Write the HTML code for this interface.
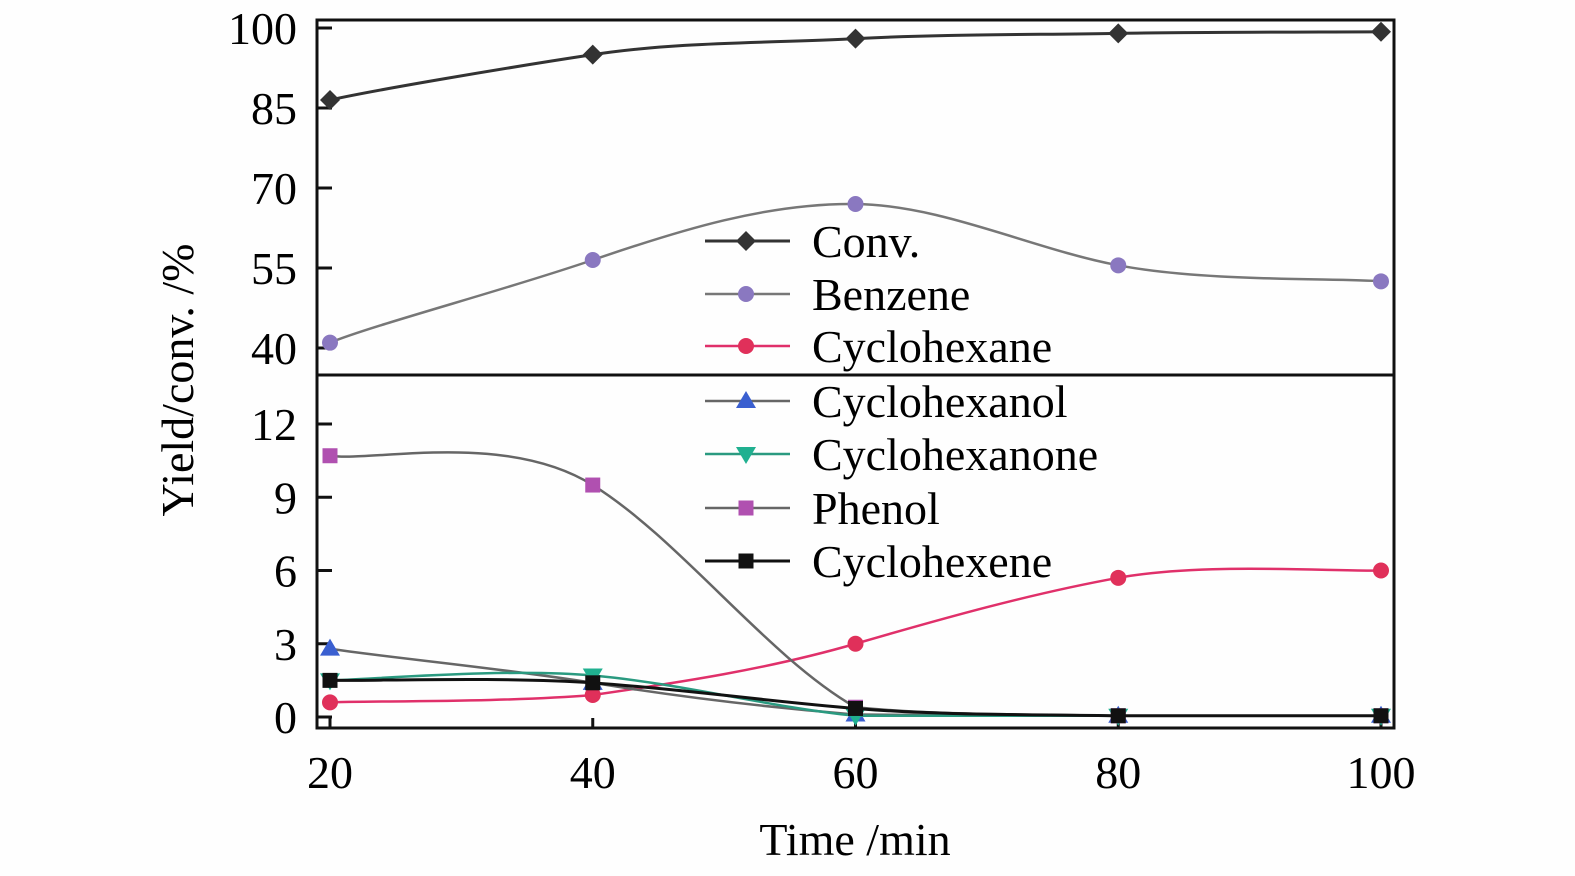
<!DOCTYPE html>
<html><head><meta charset="utf-8"><style>
html,body{margin:0;padding:0;background:#fff;}
svg{display:block;font-family:"Liberation Serif",serif;}
</style></head><body>
<svg id="chart" width="1575" height="876" viewBox="0 0 1575 876" xmlns="http://www.w3.org/2000/svg">
<rect width="1575" height="876" fill="#fefefe"/>
<defs>
<clipPath id="cTop"><rect x="317" y="20" width="1077" height="355"/></clipPath>
<clipPath id="cBot"><rect x="317" y="375" width="1077" height="353"/></clipPath>
</defs>
<g id="plot"></g>
<text x="855" y="855" font-size="46" text-anchor="middle">Time /min</text>
<text transform="translate(193,380) rotate(-90)" font-size="46" text-anchor="middle">Yield/conv. /%</text>
</svg>
<script>
const times = [20, 40, 60, 80, 100];
const conv = [86.5, 95, 98, 99, 99.3];
const benzene = [41, 56.5, 67, 55.5, 52.5];
const cyclohexane = [0.6, 0.9, 3.0, 5.7, 6.0];
const cyclohexanol = [2.8, 1.4, 0.1, 0.05, 0.05];
const cyclohexanone = [1.5, 1.7, 0.05, 0.05, 0.05];
const phenol = [10.7, 9.5, 0.4, 0.05, 0.05];
const cyclohexene = [1.5, 1.4, 0.35, 0.05, 0.05];
const xTicks = [20, 40, 60, 80, 100];
const yTopTicks = [40, 55, 70, 85, 100];
const yBotTicks = [0, 3, 6, 9, 12];
const legendLabels = ["Conv.", "Benzene", "Cyclohexane", "Cyclohexanol", "Cyclohexanone", "Phenol", "Cyclohexene"];

const NS = "http://www.w3.org/2000/svg";
const X = v => 330 + (v - 20) * (1051 / 80);
const YT = v => 28 + (100 - v) * (80 / 15);
const YB = v => 717 - v * (73.25 / 3);
const plot = document.getElementById('plot');
function mk(tag, attrs, parent) {
  const e = document.createElementNS(NS, tag);
  for (const k in attrs) e.setAttribute(k, attrs[k]);
  (parent || plot).appendChild(e);
  return e;
}
function spline(pts) {
  let d = `M${pts[0][0]},${pts[0][1]}`;
  const t = 0.5;
  const maxY = Math.max(...pts.map(p => p[1]));
  for (let i = 0; i < pts.length - 1; i++) {
    const p0 = pts[Math.max(i - 1, 0)], p1 = pts[i], p2 = pts[i + 1], p3 = pts[Math.min(i + 2, pts.length - 1)];
    const c1 = [p1[0] + (p2[0] - p0[0]) * t / 3, Math.min(maxY, p1[1] + (p2[1] - p0[1]) * t / 3 * 1.3)];
    const c2 = [p2[0] - (p3[0] - p1[0]) * t / 3, Math.min(maxY, p2[1] - (p3[1] - p1[1]) * t / 3 * 1.3)];
    d += ` C${c1[0]},${c1[1]} ${c2[0]},${c2[1]} ${p2[0]},${p2[1]}`;
  }
  return d;
}
function marker(shape, x, y, fill, parent, name) {
  let e;
  if (shape === 'diamond') e = mk('polygon', {points: `${x},${y-10} ${x+10},${y} ${x},${y+10} ${x-10},${y}`, fill}, parent);
  else if (shape === 'circle') e = mk('circle', {cx: x, cy: y, r: 8, fill}, parent);
  else if (shape === 'tri') e = mk('polygon', {points: `${x},${y-10} ${x+10},${y+7} ${x-10},${y+7}`, fill}, parent);
  else if (shape === 'itri') e = mk('polygon', {points: `${x},${y+10} ${x+10},${y-7} ${x-10},${y-7}`, fill}, parent);
  else e = mk('rect', {x: x - 7.5, y: y - 7.5, width: 15, height: 15, fill}, parent);
  
  
  return e;
}
const series = [
  {name: 'conv', vals: conv, top: true, line: '#333', mk: '#333', shape: 'diamond', lw: 3},
  {name: 'benzene', vals: benzene, top: true, line: '#777', mk: '#8a78c0', shape: 'circle', lw: 2.5},
  {name: 'cyclohexane', vals: cyclohexane, top: false, line: '#e0306a', mk: '#e0305a', shape: 'circle', lw: 2.5},
  {name: 'cyclohexanol', vals: cyclohexanol, top: false, line: '#666', mk: '#3a5fd0', shape: 'tri', lw: 2.5},
  {name: 'cyclohexanone', vals: cyclohexanone, top: false, line: '#2a9a80', mk: '#20b090', shape: 'itri', lw: 2.5},
  {name: 'phenol', vals: phenol, top: false, line: '#666', mk: '#b050b0', shape: 'square', lw: 2.5},
  {name: 'cyclohexene', vals: cyclohexene, top: false, line: '#111', mk: '#111', shape: 'square', lw: 3}
];
let e;
e = mk('rect', {x: 317, y: 20, width: 1077, height: 708, fill: 'none', stroke: '#111', 'stroke-width': 3});


e = mk('line', {x1: 317, y1: 375, x2: 1394, y2: 375, stroke: '#111', 'stroke-width': 3});


xTicks.forEach(v => {
  const t = mk('line', {x1: X(v), y1: 728, x2: X(v), y2: 718, stroke: '#111', 'stroke-width': 3});
  
  
  const l = mk('text', {x: X(v), y: 788, 'font-size': 46, 'text-anchor': 'middle'});
  l.textContent = v;
  
  
});
yTopTicks.forEach(v => {
  const t = mk('line', {x1: 317, y1: YT(v), x2: 332, y2: YT(v), stroke: '#111', 'stroke-width': 3});
  
  
  const l = mk('text', {x: 297, y: YT(v) + 16, 'font-size': 46, 'text-anchor': 'end'});
  l.textContent = v;
  
  
});
yBotTicks.forEach(v => {
  const t = mk('line', {x1: 317, y1: YB(v), x2: 332, y2: YB(v), stroke: '#111', 'stroke-width': 3});
  
  
  const l = mk('text', {x: 297, y: YB(v) + 16, 'font-size': 46, 'text-anchor': 'end'});
  l.textContent = v;
  
  
});
series.forEach(s => {
  const Y = s.top ? YT : YB;
  const g = mk('g', {'clip-path': s.top ? 'url(#cTop)' : 'url(#cBot)'});
  
  
  const pts = s.vals.map((v, i) => [X(times[i]), Y(v)]);
  const p = mk('path', {d: spline(pts), fill: 'none', stroke: s.line, 'stroke-width': s.lw}, g);
  
  
  pts.forEach(pt => marker(s.shape, pt[0], pt[1], s.mk, g, s.name + '-marker'));
});
const lg = mk('g', {});


const rows = [241, 294, 346, 401, 454, 508, 561];
series.forEach((s, i) => {
  const y = rows[i];
  const ln = mk('line', {x1: 705, y1: y, x2: 790, y2: y, stroke: s.line, 'stroke-width': s.lw}, lg);
  
  
  marker(s.shape, 746, y, s.mk, lg, 'legend-marker');
  const t = mk('text', {x: 812, y: y + 16, 'font-size': 46}, lg);
  t.textContent = legendLabels[i];
  
  
});
</script>
</body></html>
